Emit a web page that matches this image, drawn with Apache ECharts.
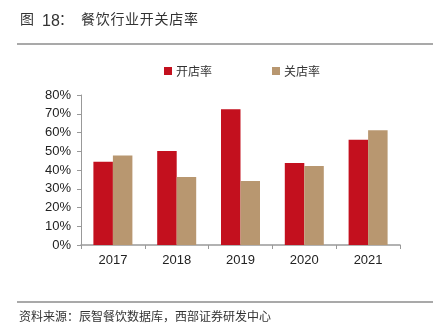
<!DOCTYPE html>
<html>
<head>
<meta charset="utf-8">
<script src="https://cdn.jsdelivr.net/npm/echarts@6/dist/echarts.min.js"></script>
<style>
html,body{margin:0;padding:0;background:#fff;}
#chart{width:444px;height:330px;}
</style>
</head>
<body>
<div id="chart"></div>
<script>
// 餐饮行业开关店率（%）
const years = ['2017', '2018', '2019', '2020', '2021'];
const openRate = [44.4, 50.1, 72.4, 43.7, 56.2];
const closeRate = [47.8, 36.3, 34.1, 42.1, 61.2];
const yTicks = [0, 10, 20, 30, 40, 50, 60, 70, 80];
const titleLabel = '图';
const titleNumber = '18';
const titleColon = '：';
const titleText = '餐饮行业开关店率';
const sourceText = '资料来源：辰智餐饮数据库，西部证券研发中心';

const chart = echarts.init(document.getElementById('chart'), null, {renderer: 'canvas'});
const cjk = '"Noto Sans CJK SC", sans-serif';
const latin = '"Liberation Sans", Arial, sans-serif';

// Title is laid out glyph by glyph to get a slightly open letter spacing
const titleGlyphs = titleText.split('').map((ch, i) => ({
  type: 'text', left: 81 + i * 14.7, top: 12,
  style: {text: ch, font: '14px ' + cjk, fill: '#333'}
}));

chart.setOption({
  backgroundColor: '#fff',
  animation: false,
  graphic: [
    {type: 'text', left: 20, top: 12, style: {text: titleLabel, font: '14px ' + cjk, fill: '#333'}},
    {type: 'text', left: 42, top: 14, style: {text: titleNumber, font: '16px ' + latin, fill: '#333'}},
    {type: 'text', left: 59, top: 12, style: {text: titleColon, font: '14px ' + cjk, fill: '#333'}},
    ...titleGlyphs,
    {type: 'line', shape: {x1: 17, y1: 44, x2: 433, y2: 44}, style: {stroke: '#555', lineWidth: 1.2}},
    {type: 'line', shape: {x1: 17, y1: 302, x2: 433, y2: 302}, style: {stroke: '#555', lineWidth: 1.2}},
    {type: 'text', left: 19, top: 310, style: {text: sourceText, font: '12px ' + cjk, fill: '#333'}}
  ],
  legend: {
    top: 60,
    left: 159,
    itemGap: 60,
    itemWidth: 8,
    itemHeight: 8,
    icon: 'rect',
    textStyle: {fontFamily: cjk, fontSize: 12, color: '#333', padding: [0, 0, 0, -1]},
    data: ['开店率', '关店率']
  },
  grid: {left: 81, right: 44, top: 95, bottom: 85, containLabel: false},
  xAxis: {
    type: 'category',
    data: years,
    axisLine: {lineStyle: {color: '#999', width: 1.5}},
    axisTick: {show: true, alignWithLabel: false, length: 4, lineStyle: {color: '#999'}},
    axisLabel: {fontFamily: latin, fontSize: 13, color: '#222', margin: 9}
  },
  yAxis: {
    type: 'value',
    min: yTicks[0],
    max: yTicks[yTicks.length - 1],
    interval: 10,
    axisLine: {show: true, lineStyle: {color: '#999'}},
    axisTick: {show: true, inside: false, length: 4, lineStyle: {color: '#999'}},
    splitLine: {show: false},
    axisLabel: {fontFamily: latin, fontSize: 13, color: '#222', margin: 10, formatter: '{value}%'}
  },
  series: [
    {name: '开店率', type: 'bar', data: openRate, barWidth: 19.5, barGap: '0%',
     itemStyle: {color: '#C3101E'}},
    {name: '关店率', type: 'bar', data: closeRate, barWidth: 19.5, barGap: '0%',
     itemStyle: {color: '#B89770'}}
  ]
});
</script>
</body>
</html>
